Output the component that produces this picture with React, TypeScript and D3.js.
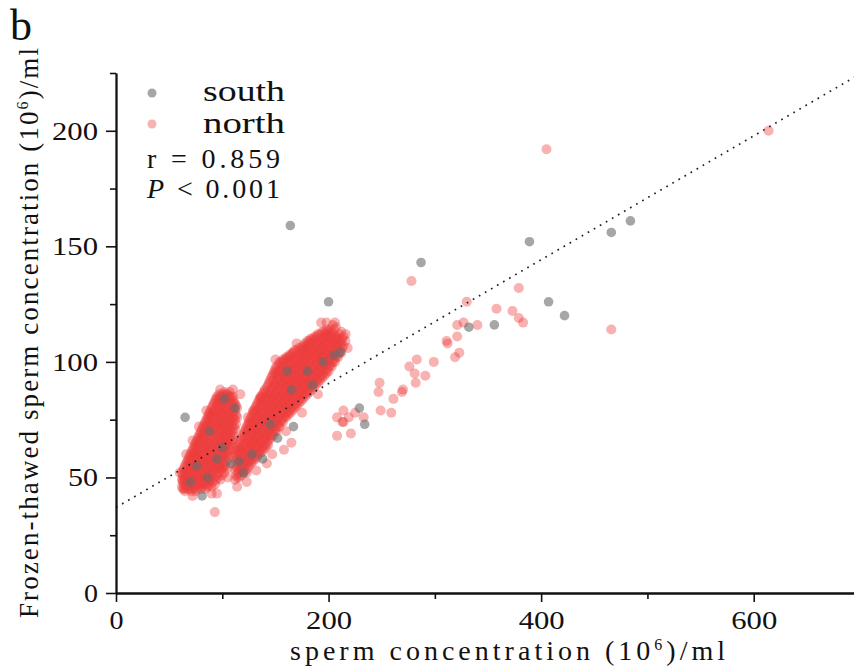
import React, { useEffect, useRef } from 'react';
import * as d3 from 'd3';

// left dense cloud (north), read column by column: [x, [y values]]
const northCloudA: [number, number[]][] = [
  [62, [46, 49, 52]], [63, [45, 48, 51, 53]], [64, [47, 50, 54, 45]], [65, [44, 49, 52, 55]],
  [66, [46, 51, 48, 56]], [67, [45, 50, 53, 57]], [68, [47, 52, 55, 49, 58]], [69, [45, 50, 54, 57, 59]],
  [70, [48, 46, 53, 56, 60]], [71, [44, 50, 55, 58, 61, 52]], [72, [47, 53, 49, 57, 60, 62]],
  [73, [45, 51, 55, 59, 63, 48]], [74, [46, 50, 54, 58, 61, 64]], [75, [48, 52, 56, 60, 63, 65, 44]],
  [76, [45, 51, 54, 58, 62, 66]], [77, [47, 50, 55, 59, 64, 67]], [78, [46, 49, 53, 57, 61, 65, 68]],
  [79, [48, 52, 56, 60, 63, 66, 69]], [80, [45, 50, 54, 58, 62, 67, 70]], [81, [47, 51, 55, 59, 64, 68, 71]],
  [82, [46, 49, 53, 57, 61, 65, 69, 72]], [83, [48, 52, 56, 60, 63, 67, 71, 73]],
  [84, [45, 50, 54, 58, 62, 66, 70, 74]], [85, [47, 51, 55, 59, 64, 68, 72, 75]],
  [86, [46, 49, 53, 57, 61, 65, 69, 73, 76]], [87, [48, 52, 56, 60, 63, 67, 71, 75, 77]],
  [88, [47, 50, 54, 58, 62, 66, 70, 74, 78]], [89, [49, 53, 57, 61, 65, 69, 73, 77, 79]],
  [90, [46, 51, 55, 59, 63, 68, 72, 76, 80]], [91, [48, 52, 56, 60, 64, 70, 74, 78, 81]],
  [92, [50, 54, 58, 62, 66, 71, 75, 79, 82]], [93, [47, 53, 57, 61, 65, 69, 73, 77, 83]],
  [94, [49, 55, 59, 63, 67, 72, 76, 80, 84]], [95, [51, 54, 58, 62, 66, 70, 74, 78, 82, 85]],
  [96, [50, 56, 60, 64, 68, 73, 77, 81, 84]], [97, [52, 55, 59, 63, 67, 71, 75, 79, 83, 86]],
  [98, [49, 54, 58, 62, 66, 70, 74, 78, 82, 85]], [99, [53, 57, 61, 65, 69, 73, 77, 81, 84]],
  [100, [51, 55, 59, 63, 67, 71, 75, 79, 83, 86]], [101, [54, 58, 62, 66, 70, 74, 78, 82, 85]],
  [102, [52, 56, 60, 64, 68, 72, 76, 80, 84, 87]], [103, [55, 59, 63, 67, 71, 75, 79, 83, 86]],
  [104, [57, 61, 65, 69, 73, 77, 81, 85]], [105, [54, 60, 64, 68, 72, 76, 80, 84, 86]],
  [106, [58, 62, 66, 70, 74, 78, 82, 85]], [107, [60, 64, 68, 72, 76, 80, 84, 87]],
  [108, [62, 66, 70, 74, 78, 82, 85]], [109, [64, 68, 72, 76, 80, 84]], [110, [66, 70, 74, 78, 82, 85]],
  [111, [68, 72, 76, 80, 83]], [112, [71, 75, 79, 82]], [113, [73, 77, 81]], [114, [76, 80]],
];

// right dense cloud (north)
const northCloudB: [number, number[]][] = [
  [112, [49, 53, 57, 60]], [113, [51, 55, 59, 62]], [114, [50, 54, 58, 61, 63]], [115, [52, 56, 60, 64]],
  [116, [50, 54, 58, 62, 65]], [117, [53, 57, 61, 66]], [118, [51, 55, 59, 63, 67]], [119, [54, 58, 62, 68]],
  [120, [52, 56, 60, 64, 69]], [121, [55, 59, 63, 67, 70]], [122, [53, 57, 61, 65, 71]],
  [123, [52, 56, 60, 64, 68, 72]], [124, [54, 58, 62, 66, 70, 73]], [125, [55, 59, 63, 67, 71, 74]],
  [126, [57, 61, 65, 69, 73, 75]], [127, [56, 60, 64, 68, 72, 76]], [128, [58, 62, 66, 70, 74, 77]],
  [129, [57, 61, 65, 69, 73, 78]], [130, [59, 63, 67, 71, 75, 79]], [131, [58, 62, 66, 70, 74, 78, 80]],
  [132, [60, 64, 68, 72, 76, 81]], [133, [59, 63, 67, 71, 75, 79, 82]], [134, [61, 65, 69, 73, 77, 83]],
  [135, [60, 64, 68, 72, 76, 80, 84]], [136, [62, 66, 70, 74, 78, 82, 85]], [137, [61, 65, 69, 73, 77, 81, 85]],
  [138, [63, 67, 71, 75, 79, 83, 86]], [139, [62, 66, 70, 74, 78, 82, 87]], [140, [64, 68, 72, 76, 80, 84, 88]],
  [141, [63, 67, 71, 75, 79, 83, 87]], [142, [65, 69, 73, 77, 81, 85, 89]], [143, [64, 68, 72, 76, 80, 84, 90]],
  [144, [66, 70, 74, 78, 82, 86, 91]], [145, [67, 71, 75, 79, 83, 87, 92]], [146, [68, 72, 76, 80, 84, 88, 93]],
  [147, [69, 73, 77, 81, 85, 89, 94]], [148, [68, 72, 76, 80, 84, 88, 92, 95]], [149, [70, 74, 78, 82, 86, 90, 96]],
  [150, [71, 75, 79, 83, 87, 91, 95, 97]], [151, [70, 74, 78, 82, 86, 90, 94, 98]], [152, [72, 76, 80, 84, 88, 92, 96]],
  [153, [73, 77, 81, 85, 89, 93, 99]], [154, [72, 76, 80, 84, 88, 92, 96, 100]], [155, [74, 78, 82, 86, 90, 94, 98]],
  [156, [75, 79, 83, 87, 91, 95, 100]], [157, [74, 78, 82, 86, 90, 94, 98, 101]], [158, [76, 80, 84, 88, 92, 96, 100]],
  [159, [77, 81, 85, 89, 93, 97, 101]], [160, [76, 80, 84, 88, 92, 96, 102]], [161, [78, 82, 86, 90, 94, 98, 101]],
  [162, [77, 81, 85, 89, 93, 97, 102]], [163, [79, 83, 87, 91, 95, 99, 103]], [164, [78, 82, 86, 90, 94, 98, 102]],
  [165, [80, 84, 88, 92, 96, 100, 103]], [166, [79, 83, 87, 91, 95, 99, 104]], [167, [81, 85, 89, 93, 97, 101, 104]],
  [168, [80, 84, 88, 92, 96, 100, 105]], [169, [82, 86, 90, 94, 98, 102]], [170, [81, 85, 89, 93, 97, 101, 105]],
  [171, [83, 87, 91, 95, 99, 103]], [172, [82, 86, 90, 94, 98, 102, 106]], [173, [84, 88, 92, 96, 100, 104]],
  [174, [83, 87, 91, 95, 99, 103, 106]], [175, [85, 89, 93, 97, 101, 105]], [176, [84, 88, 92, 96, 100, 104, 107]],
  [177, [86, 90, 94, 98, 102, 106]], [178, [85, 89, 93, 97, 101, 105, 108]], [179, [87, 91, 95, 99, 103, 107]],
  [180, [86, 90, 94, 98, 102, 106, 109]], [181, [88, 92, 96, 100, 104, 108]], [182, [87, 91, 95, 99, 103, 107, 109]],
  [183, [89, 93, 97, 101, 105, 110]], [184, [88, 92, 96, 100, 104, 108]], [185, [90, 94, 98, 102, 106, 110]],
  [186, [89, 93, 97, 101, 105, 109]], [187, [91, 95, 99, 103, 107, 111]], [188, [90, 94, 98, 102, 106, 110]],
  [189, [92, 96, 100, 104, 108, 111]], [190, [91, 95, 99, 103, 107, 112]], [191, [93, 97, 101, 105, 109]],
  [192, [92, 96, 100, 104, 108, 112]], [193, [94, 98, 102, 106, 110]], [194, [93, 97, 101, 105, 109, 113]],
  [195, [95, 99, 103, 107, 111]], [196, [94, 98, 102, 106, 110, 113]], [197, [96, 100, 104, 108, 112]],
  [198, [95, 99, 103, 107, 111, 114]], [199, [97, 101, 105, 109, 113]], [200, [96, 100, 104, 108, 112]],
  [201, [98, 102, 106, 110, 114]], [202, [99, 103, 107, 111]], [203, [98, 102, 106, 110, 113]],
  [204, [100, 104, 108, 112]], [205, [101, 105, 109, 114]], [206, [100, 104, 108, 111]],
  [207, [102, 106, 110, 115]], [208, [103, 107, 111]], [209, [102, 106, 110]], [210, [104, 108, 112]],
  [211, [105, 109]], [212, [104, 108, 113]], [213, [106, 110]], [214, [107, 111]], [216, [109]],
];

// lighter points around the edges of the two clouds
const northFringe: [number, number][] = [
  [154, 96], [136, 84], [129, 79], [117, 86], [110, 88], [147, 60], [142, 56], [216, 112],
  [204, 116], [198, 117], [98, 88], [72, 66], [66, 60], [63, 49], [60, 52], [95, 43], [123, 48],
  [114, 46], [105, 50], [85, 79], [78, 72], [124, 76], [160, 70], [175, 78], [190, 86],
  [218, 106], [150, 101], [132, 53], [170, 108],
];

// scattered north samples
const northSparse: [number, number][] = [
  [93, 35], [72, 42], [90, 43], [165, 65], [158, 62], [193, 117], [206, 117], [208, 68], [221, 69],
  [208, 76], [213, 74], [214, 74], [219, 76], [214, 79], [225, 78], [233, 76], [249, 79], [259, 78],
  [261, 84], [247, 87], [248, 91], [269, 87], [270, 88], [282, 91], [291, 94], [281, 95], [276, 98],
  [283, 101], [299, 100], [319, 102], [323, 104], [311, 109], [312, 108], [321, 111], [321, 116],
  [327, 117], [340, 116], [330, 126], [358, 123], [373, 122], [379, 119], [383, 117],
  [379, 132], [278, 135], [405, 192], [614, 200], [466, 114],
];

const southPoints: [number, number][] = [
  [65, 76], [81, 42], [102, 84], [86, 50], [70, 48], [95, 58], [108, 56], [112, 80],
  [88, 70], [100, 63], [76, 55], [116, 57], [120, 52], [128, 60], [138, 58], [152, 67],
  [145, 73], [161, 96], [165, 88], [167, 72], [180, 96], [185, 90], [195, 100], [205, 103],
  [211, 104], [164, 159], [200, 126], [229, 80], [234, 73], [287, 143], [389, 152],
  [466, 156], [484, 161], [407, 126], [422, 120], [356, 116], [332, 115],
];

const xMajor = [0, 200, 400, 600];
const xMinor = [100, 300, 500, 700];
const yMajor = [0, 50, 100, 150, 200];
const yMinor = [25, 75, 125, 175, 225];

// fitted line y = a + b x
const fitIntercept = 37;
const fitSlope = 0.268;

const NORTH = '#ee3b3b';
const SOUTH = '#6a6a6a';

const SERIF = "'Liberation Serif', 'DejaVu Serif', serif";

export default function App() {
  const ref = useRef<SVGSVGElement>(null);

  useEffect(() => {
    const svg = d3.select(ref.current);
    svg.selectAll('*').remove();

    const x = d3.scaleLinear().domain([0, 700]).range([116, 860]);
    const y = d3.scaleLinear().domain([0, 225]).range([593, 73]);

    const unroll = (rows: [number, number[]][]) =>
      rows.flatMap(([vx, ys]) => ys.map((vy) => [vx, vy] as [number, number]));
    const north: [number, number][] = [
      ...unroll(northCloudA),
      ...unroll(northCloudB),
      ...northFringe,
      ...northSparse,
    ];

    const labelLen = (s: string) => (s.length === 1 ? 14 : s.length === 2 ? 30 : 46);

    svg.append('defs')
      .append('filter')
      .attr('id', 'soft')
      .append('feGaussianBlur')
      .attr('stdDeviation', 0.7);

    // points
    svg.append('g')
      .attr('filter', 'url(#soft)')
      .selectAll('circle')
      .data(north)
      .enter()
      .append('circle')
      .attr('cx', (d) => x(d[0]))
      .attr('cy', (d) => y(d[1]))
      .attr('r', 5)
      .attr('fill', NORTH)
      .attr('fill-opacity', 0.4);

    svg.append('g')
      .attr('filter', 'url(#soft)')
      .selectAll('circle')
      .data(southPoints)
      .enter()
      .append('circle')
      .attr('cx', (d) => x(d[0]))
      .attr('cy', (d) => y(d[1]))
      .attr('r', 4.8)
      .attr('fill', SOUTH)
      .attr('fill-opacity', 0.6);

    // regression line
    const line = d3.line<number>()
      .x((d) => x(d))
      .y((d) => y(fitIntercept + fitSlope * d));
    svg.append('path')
      .attr('d', line([0, 700]))
      .attr('fill', 'none')
      .attr('stroke', '#222')
      .attr('stroke-width', 1.7)
      .attr('stroke-dasharray', '1.7 5.3');

    // axes
    const styleAxis = (g: d3.Selection<SVGGElement, unknown, null, undefined>) => {
      g.selectAll('path').attr('stroke', '#111').attr('stroke-width', 1.8);
      g.selectAll('line').attr('stroke', '#111').attr('stroke-width', 1.6);
      g.selectAll('text')
        .attr('fill', '#111')
        .style('font-family', SERIF)
        .style('font-size', '26px')
        .attr('textLength', (d: any) => labelLen(String(d)))
        .attr('lengthAdjust', 'spacingAndGlyphs');
    };

    svg.append('g')
      .attr('transform', 'translate(0,593)')
      .call(d3.axisBottom(x).tickValues(xMinor).tickSize(6).tickSizeOuter(0).tickFormat(() => ''))
      .call(styleAxis);
    svg.append('g')
      .attr('transform', 'translate(0,593)')
      .call(d3.axisBottom(x).tickValues(xMajor).tickSize(9).tickPadding(9).tickSizeOuter(0))
      .call(styleAxis);

    svg.append('g')
      .attr('transform', 'translate(116,0)')
      .call(d3.axisLeft(y).tickValues(yMinor).tickSize(6).tickSizeOuter(0).tickFormat(() => ''))
      .call(styleAxis);
    svg.append('g')
      .attr('transform', 'translate(116,0)')
      .call(d3.axisLeft(y).tickValues(yMajor).tickSize(10).tickPadding(8).tickSizeOuter(0))
      .call(styleAxis);

    // panel letter
    svg.append('text')
      .attr('x', 10)
      .attr('y', 40)
      .style('font-family', SERIF)
      .style('font-size', '44px')
      .attr('fill', '#111')
      .text('b');

    // legend
    const legend = [
      { label: 'south', color: SOUTH, op: 0.6, cy: 93, base: 101 },
      { label: 'north', color: NORTH, op: 0.4, cy: 124, base: 133 },
    ];
    legend.forEach((l) => {
      svg.append('circle')
        .attr('cx', 152).attr('cy', l.cy).attr('r', 4.5)
        .attr('fill', l.color).attr('fill-opacity', l.op)
        .attr('filter', 'url(#soft)');
      svg.append('text')
        .attr('x', 203).attr('y', l.base)
        .style('font-family', SERIF).style('font-size', '29px')
        .attr('textLength', 82).attr('lengthAdjust', 'spacingAndGlyphs')
        .attr('fill', '#111')
        .text(l.label);
    });

    svg.append('text')
      .attr('x', 147).attr('y', 168)
      .style('font-family', SERIF).style('font-size', '28px')
      .attr('textLength', 133).attr('lengthAdjust', 'spacing')
      .attr('fill', '#111')
      .text('r = 0.859');

    const pText = svg.append('text')
      .attr('x', 147).attr('y', 198)
      .style('font-family', SERIF).style('font-size', '28px')
      .attr('textLength', 133).attr('lengthAdjust', 'spacing')
      .attr('fill', '#111');
    pText.append('tspan').style('font-style', 'italic').text('P');
    pText.append('tspan').text(' < 0.001');

    // axis titles
    const xt = svg.append('text')
      .attr('x', 290).attr('y', 660)
      .style('font-family', SERIF).style('font-size', '28px')
      .attr('textLength', 435).attr('lengthAdjust', 'spacing')
      .attr('fill', '#111');
    xt.append('tspan').text('sperm concentration (10');
    xt.append('tspan').attr('dy', -10).style('font-size', '16px').text('6');
    xt.append('tspan').attr('dy', 10).text(')/ml');

    const yt = svg.append('text')
      .attr('transform', 'translate(38,618) rotate(-90)')
      .style('font-family', SERIF).style('font-size', '27px')
      .attr('textLength', 570).attr('lengthAdjust', 'spacing')
      .attr('fill', '#111');
    yt.append('tspan').text('Frozen-thawed sperm concentration (10');
    yt.append('tspan').attr('dy', -10).style('font-size', '16px').text('6');
    yt.append('tspan').attr('dy', 10).text(')/ml');
  }, []);

  return (
    <svg
      ref={ref}
      width={854}
      height={671}
      style={{ position: 'absolute', left: 0, top: 0, background: '#fff' }}
    />
  );
}
